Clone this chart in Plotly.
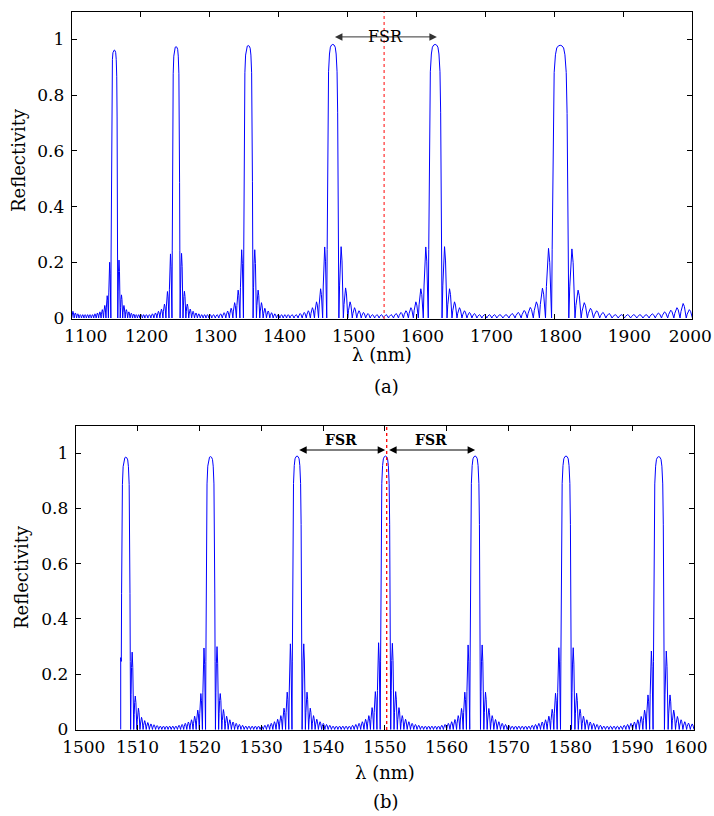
import plotly.graph_objects as go

# ------------------------------------------------------------------
# Data
# ------------------------------------------------------------------
NB = "\u00a0"
# Panel (a): wide span
xrange_a = [1100, 2000]
xticks_a = [1100, 1200, 1300, 1400, 1500, 1600, 1700, 1800, 1900, 2000]
xticktext_a = [NB * 3 + "1100", "1200", "1300", "1400", "1500", "1600",
               "1700", "1800", "1900", "2000" + NB * 3]
centers_a = [1161.8, 1251.3, 1356.0, 1478.6, 1627.0, 1808.3]
peaks_a = [0.962, 0.974, 0.978, 0.982, 0.982, 0.979]
halfw_a = [5.0, 5.9, 7.0, 8.8, 10.0, 12.5]
period_a = [3.6, 4.2, 5.0, 6.2, 7.2, 9.0]
left_lobes_a = [
    [0.200, 0.080, 0.045, 0.030, 0.022, 0.018, 0.015],
    [0.230, 0.095, 0.050, 0.032, 0.024, 0.018, 0.015],
    [0.245, 0.100, 0.055, 0.035, 0.025, 0.019, 0.015],
    [0.255, 0.105, 0.058, 0.037, 0.026, 0.020, 0.016],
    [0.255, 0.105, 0.058, 0.037, 0.026, 0.020, 0.016],
    [0.250, 0.107, 0.058, 0.038, 0.027, 0.020, 0.016],
]
right_lobes_a = [
    [0.208, 0.083, 0.045, 0.030, 0.022, 0.017, 0.014],
    [0.232, 0.096, 0.050, 0.032, 0.024, 0.018, 0.015],
    [0.245, 0.100, 0.055, 0.035, 0.025, 0.019, 0.015],
    [0.256, 0.108, 0.058, 0.037, 0.026, 0.020, 0.016],
    [0.256, 0.105, 0.058, 0.037, 0.026, 0.020, 0.016],
    [0.248, 0.100, 0.055, 0.035, 0.026, 0.020, 0.016],
]
floor_a = 0.012
edge_left_a = [0.024, 0.018, 0.015]                       # from 1100 inward
edge_right_a = [0.030, 0.052, 0.037, 0.028, 0.022, 0.018, 0.015]  # from 2000 inward
marker_a = 1553.0
fsr_a = [1479.5, 1629.5]
fsr_y_a = 1.009

# Panel (b): zoom around 1550 nm
xrange_b = [1500, 1600]
xticks_b = [1500, 1510, 1520, 1530, 1540, 1550, 1560, 1570, 1580, 1590, 1600]
xticktext_b = [NB * 3 + "1500", "1510", "1520", "1530", "1540", "1550",
               "1560", "1570", "1580", "1590", "1600" + NB * 3]
start_b = 1507.28          # the trace starts here
start_level_b = 0.26
centers_b = [1508.1, 1521.8, 1535.8, 1550.1, 1564.6, 1579.3, 1594.3]
peaks_b = [0.986, 0.988, 0.990, 0.990, 0.990, 0.990, 0.988]
halfw_b = [0.78, 0.80, 0.82, 0.85, 0.87, 0.89, 0.92]
period_b = [0.50, 0.51, 0.52, 0.53, 0.54, 0.56, 0.57]
left_lobes_b = [
    [0.26],
    [0.295, 0.130, 0.070, 0.048, 0.035, 0.027, 0.022, 0.018, 0.015],
    [0.310, 0.135, 0.077, 0.050, 0.037, 0.028, 0.022, 0.018, 0.015],
    [0.314, 0.137, 0.079, 0.050, 0.037, 0.028, 0.022, 0.018, 0.015],
    [0.306, 0.135, 0.076, 0.050, 0.036, 0.028, 0.022, 0.018, 0.015],
    [0.296, 0.131, 0.073, 0.048, 0.035, 0.027, 0.022, 0.018, 0.015],
    [0.284, 0.125, 0.070, 0.047, 0.035, 0.027, 0.022, 0.018, 0.015],
]
right_lobes_b = [
    [0.280, 0.121, 0.077, 0.044, 0.032, 0.025, 0.020, 0.017, 0.014],
    [0.300, 0.130, 0.072, 0.048, 0.035, 0.027, 0.022, 0.018, 0.015],
    [0.310, 0.135, 0.077, 0.050, 0.037, 0.028, 0.022, 0.018, 0.015],
    [0.312, 0.137, 0.079, 0.050, 0.037, 0.028, 0.022, 0.018, 0.015],
    [0.306, 0.135, 0.076, 0.050, 0.036, 0.028, 0.022, 0.018, 0.015],
    [0.296, 0.131, 0.073, 0.048, 0.035, 0.027, 0.022, 0.018, 0.015],
    [0.284, 0.125, 0.070, 0.047, 0.035, 0.028, 0.023, 0.020],
]
floor_b = 0.012
marker_b = 1550.3
fsr_left_b = [1535.9, 1550.05]
fsr_right_b = [1550.45, 1564.6]
fsr_y_b = 1.012

yticks = [0, 0.2, 0.4, 0.6, 0.8, 1]
ytick_text = ["0", "0.2", "0.4", "0.6", "0.8", "1"]

# Shape templates (main lobe and ripple arch)
LOBE_U = [-1.0, -0.93, -0.87, -0.8, -0.7, -0.55, -0.4, -0.2, 0.0,
          0.2, 0.4, 0.55, 0.7, 0.8, 0.87, 0.93, 1.0]
LOBE_F = [0.0, 0.25, 0.5, 0.75, 0.9, 0.965, 0.99, 0.998, 1.0,
          0.998, 0.99, 0.965, 0.9, 0.75, 0.5, 0.25, 0.0]
ARCH_T = [0.15, 0.3, 0.5, 0.7, 0.85]
ARCH_F = [0.45, 0.8, 1.0, 0.8, 0.45]


def arches(a, b, period, lobes, floor):
    n = max(1, int(round(abs(b - a) / period)))
    w = (b - a) / n
    out = []
    for k in range(n):
        h = lobes[k] if k < len(lobes) else floor
        out.append([a + k * w, a + (k + 1) * w, h])
    return out


def spectrum(x0, x1, centers, peaks, halfw, period, left, right, floor,
             edge_left=None, edge_right=None, start_level=None):
    pts = []
    arcs = []
    if start_level is not None:
        pts += [(x0, 0.0), (x0, start_level)]
    for i, c in enumerate(centers):
        for u, f in zip(LOBE_U, LOBE_F):
            pts.append((c + u * halfw[i], peaks[i] * f))
    for i in range(len(centers) - 1):
        r = centers[i] + halfw[i]
        l = centers[i + 1] - halfw[i + 1]
        m = 0.5 * (r + l)
        arcs += arches(r, m, period[i], right[i], floor)
        arcs += arches(l, m, period[i + 1], left[i + 1], floor)
    if start_level is None:
        a = arches(centers[0] - halfw[0], x0, period[0], left[0], floor)
        for k, h in enumerate(edge_left or []):
            a[len(a) - 1 - k][2] = h
        arcs += a
    a = arches(centers[-1] + halfw[-1], x1, period[-1], right[-1], floor)
    for k, h in enumerate(edge_right or []):
        a[len(a) - 1 - k][2] = h
    arcs += a
    for s, e, h in arcs:
        pts.append((s, 0.0))
        for t, f in zip(ARCH_T, ARCH_F):
            pts.append((s + t * (e - s), h * f))
        pts.append((e, 0.0))
    pts.sort(key=lambda p: p[0])
    xs = [p[0] for p in pts]
    ys = [p[1] for p in pts]
    return xs, ys


xa, ya = spectrum(xrange_a[0], xrange_a[1], centers_a, peaks_a, halfw_a, period_a,
                  left_lobes_a, right_lobes_a, floor_a, edge_left_a, edge_right_a)
xb, yb = spectrum(start_b, xrange_b[1], centers_b, peaks_b, halfw_b, period_b,
                  left_lobes_b, right_lobes_b, floor_b, start_level=start_level_b)

# ------------------------------------------------------------------
W, H = 714, 816
FONT = "DejaVu Serif"


def px(x):
    return x / W


def py(y):
    return 1 - y / H


fig = go.Figure()
fig.add_trace(go.Scatter(x=xa, y=ya, mode="lines", line=dict(color="#0000ff", width=1),
                         xaxis="x", yaxis="y", showlegend=False, hoverinfo="skip"))
fig.add_trace(go.Scatter(x=xb, y=yb, mode="lines", line=dict(color="#0000ff", width=1),
                         xaxis="x2", yaxis="y2", showlegend=False, hoverinfo="skip"))

axis_common = dict(showgrid=False, zeroline=False, showline=True, linecolor="black",
                   linewidth=1, mirror="ticks", ticks="inside", ticklen=5,
                   tickcolor="black", tickwidth=1, automargin=False,
                   ticklabeloverflow="allow",
                   tickfont=dict(family=FONT, size=17, color="black"))

fig.update_layout(
    width=W, height=H, margin=dict(l=0, r=0, t=0, b=0, autoexpand=False),
    paper_bgcolor="white", plot_bgcolor="white",
    font=dict(family=FONT, color="black"),
    xaxis=dict(domain=[px(71.7), px(692.4)], range=xrange_a, anchor="y",
               tickvals=xticks_a, ticktext=xticktext_a,
               ticklabelshift=6, ticklabelstandoff=2, **axis_common),
    yaxis=dict(domain=[py(319), py(12.3)], range=[-0.0036, 1.0973], anchor="x",
               tickvals=yticks, ticktext=ytick_text,
               ticklabelstandoff=3, **axis_common),
    xaxis2=dict(domain=[px(75.7), px(694)], range=xrange_b, anchor="y2",
                tickvals=xticks_b, ticktext=xticktext_b,
                ticklabelstandoff=2, **axis_common),
    yaxis2=dict(domain=[py(730), py(425.7)], range=[-0.002, 1.1], anchor="x2",
                tickvals=yticks, ticktext=ytick_text,
                ticklabelstandoff=3, **axis_common),
)

# red dotted marker lines
fig.add_shape(type="line", xref="x", yref="y domain", x0=marker_a, x1=marker_a, y0=0, y1=1,
              line=dict(color="#ff4040", width=1.3, dash="dot"))
fig.add_shape(type="line", xref="x2", yref="y2 domain", x0=marker_b, x1=marker_b, y0=0, y1=1,
              line=dict(color="#ff0000", width=1.3, dash="dot"))

# FSR arrows
def double_arrow(xr, yr, x0, x1, y, color):
    fig.add_annotation(xref=xr, yref=yr, axref=xr, ayref=yr, x=x1, y=y, ax=x0, ay=y,
                       text="", showarrow=True, arrowhead=2, arrowside="end+start",
                       arrowsize=1.5, arrowwidth=1, arrowcolor=color,
                       standoff=0, startstandoff=0)


double_arrow("x", "y", fsr_a[0], fsr_a[1], fsr_y_a, "#333333")
fig.add_annotation(xref="x", yref="y", x=0.5 * (fsr_a[0] + fsr_a[1]), y=fsr_y_a, text="FSR",
                   showarrow=False, font=dict(family=FONT, size=16, color="black"))

double_arrow("x2", "y2", fsr_left_b[0], fsr_left_b[1], fsr_y_b, "black")
double_arrow("x2", "y2", fsr_right_b[0], fsr_right_b[1], fsr_y_b, "black")
for pair in (fsr_left_b, fsr_right_b):
    fig.add_annotation(xref="x2", yref="y2", x=0.5 * (pair[0] + pair[1]), y=fsr_y_b,
                       yshift=10, text="<b>FSR</b>", showarrow=False,
                       font=dict(family=FONT, size=14, color="black"))

# axis titles and panel labels
def label(text, x, y, size=18, angle=0):
    fig.add_annotation(xref="paper", yref="paper", x=px(x), y=py(y), text=text,
                       showarrow=False, textangle=angle, xanchor="center", yanchor="middle",
                       font=dict(family=FONT, size=size, color="black"))


label("Reflectivity", 19, 160, angle=-90)
label("λ (nm)", 382, 354)
label("(a)", 386, 386)
label("Reflectivity", 21, 577, angle=-90)
label("λ (nm)", 385, 772)
label("(b)", 386, 801)

fig.write_html("out.html")
